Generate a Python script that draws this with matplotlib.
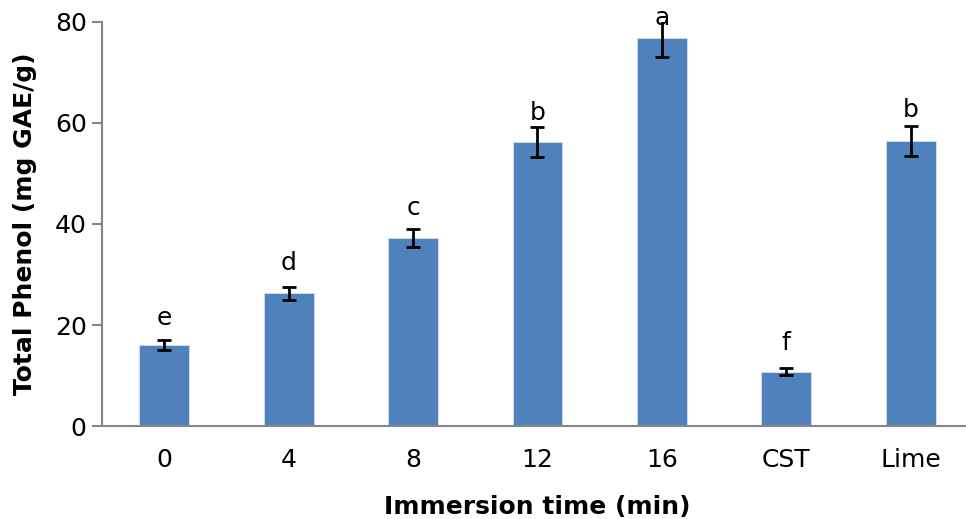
import numpy as np
import matplotlib.pyplot as plt

# Total phenol content by immersion time
categories = ['0', '4', '8', '12', '16', 'CST', 'Lime']
phenol = [16.0, 26.3, 37.2, 56.2, 76.8, 10.8, 56.4]
errors = [1.0, 1.3, 1.8, 2.9, 3.7, 0.65, 2.9]
letters = ['e', 'd', 'c', 'b', 'a', 'f', 'b']
letter_y = [21.4, 32.3, 43.1, 61.9, 80.7, 16.4, 62.5]

fig = plt.figure(figsize=(9.66, 5.19), dpi=100)
ax = fig.add_axes([0.1056, 0.179, 0.9015, 0.779])

x = np.arange(len(categories))
ax.bar(x, phenol, width=0.4, color='#4F81BD', edgecolor='#D6E0EE', linewidth=0.6,
       yerr=errors, capsize=5,
       error_kw=dict(ecolor='black', elinewidth=2, capthick=2))

for xi, lab, ly in zip(x, letters, letter_y):
    ax.text(xi, ly, lab, ha='center', va='center', fontsize=18, clip_on=False)

ax.set_xlim(-0.5, 6.5)
ax.set_ylim(0, 80)
ax.set_yticks([0, 20, 40, 60, 80])
ax.set_xticks(x)
ax.set_xticklabels(categories)

for s in ['top', 'right']:
    ax.spines[s].set_visible(False)
for s in ['left', 'bottom']:
    ax.spines[s].set_color('#868686')
    ax.spines[s].set_linewidth(1.5)

ax.tick_params(axis='y', length=7, width=1.5, color='#868686', labelsize=18, pad=4)
ax.tick_params(axis='x', length=0, labelsize=18, pad=16)

ax.set_ylabel('Total Phenol (mg GAE/g)', fontsize=18, fontweight='bold', labelpad=13)
ax.set_xlabel('Immersion time (min)', fontsize=18, fontweight='bold', labelpad=16)

fig.savefig('out.png', dpi=100)
